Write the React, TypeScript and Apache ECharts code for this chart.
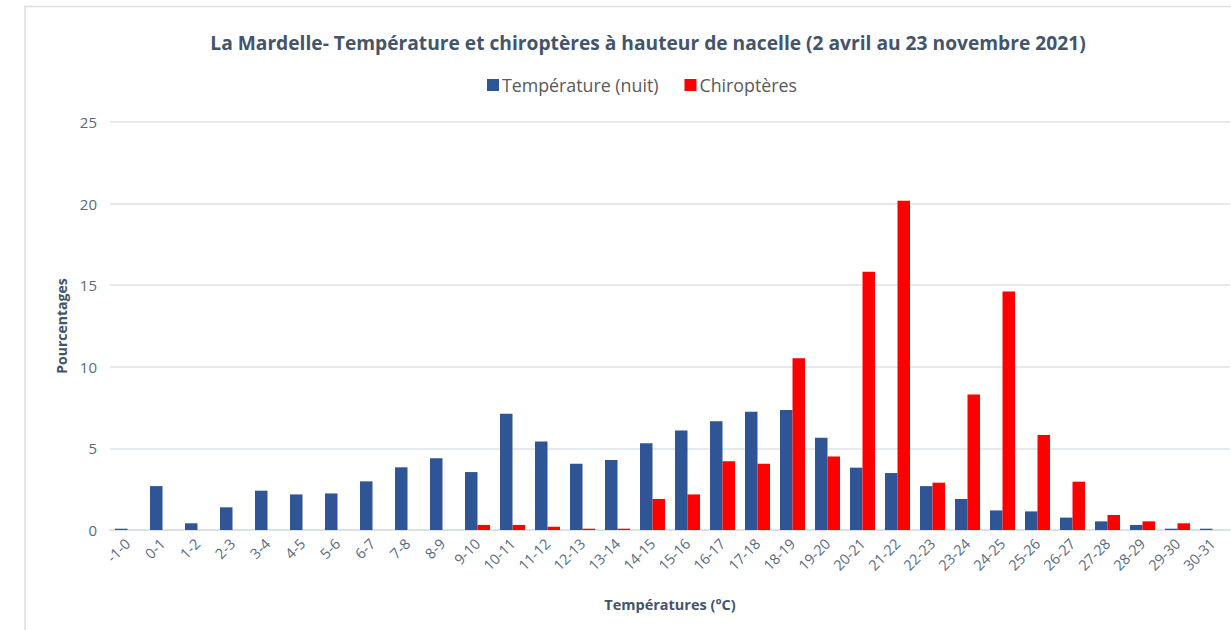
import React, { useEffect, useRef } from "react";
import * as echarts from "echarts";

const categories = [
  "-1-0", "0-1", "1-2", "2-3", "3-4", "4-5", "5-6", "6-7", "7-8", "8-9",
  "9-10", "10-11", "11-12", "12-13", "13-14", "14-15", "15-16", "16-17", "17-18", "18-19",
  "19-20", "20-21", "21-22", "22-23", "23-24", "24-25", "25-26", "26-27", "27-28", "28-29",
  "29-30", "30-31",
];

const temperatureNuit = [
  0.08, 2.69, 0.41, 1.39, 2.41, 2.18, 2.24, 2.98, 3.84, 4.39,
  3.55, 7.12, 5.43, 4.06, 4.29, 5.31, 6.1, 6.67, 7.24, 7.35,
  5.65, 3.82, 3.49, 2.69, 1.9, 1.2, 1.14, 0.76, 0.53, 0.31,
  0.08, 0.08,
];

const chiropteres = [
  0, 0, 0, 0, 0, 0, 0, 0, 0, 0,
  0.31, 0.31, 0.2, 0.08, 0.08, 1.9, 2.18, 4.22, 4.06, 10.53,
  4.51, 15.82, 20.18, 2.9, 8.31, 14.61, 5.82, 2.96, 0.92, 0.53,
  0.41, 0,
];

const yTicks = { min: 0, max: 25, interval: 5 };

const FONT = "'Open Sans', 'Noto Sans', sans-serif";

export default function App() {
  const ref = useRef<HTMLDivElement>(null);

  useEffect(() => {
    if (!ref.current) return;
    const chart = echarts.init(ref.current, null, { renderer: "svg" });
    chart.setOption({
      animation: false,
      backgroundColor: "#ffffff",
      title: {
        text: "La Mardelle- Température et chiroptères à hauteur de nacelle (2 avril au 23 novembre 2021)",
        left: 643,
        top: 28,
        textAlign: "center",
        textStyle: {
          fontFamily: FONT,
          fontWeight: "bold",
          fontSize: 19.2,
          color: "#44546A",
        },
      },
      legend: {
        top: 71,
        left: 482,
        itemWidth: 12,
        itemHeight: 12,
        itemGap: 26,
        icon: "rect",
        textStyle: { fontFamily: FONT, fontSize: 17.8, color: "#595959", padding: [0, 0, 0, -2] },
        data: ["Température (nuit)", "Chiroptères"],
      },
      graphic: [
        {
          type: "rect",
          shape: { x: 25, y: 6.5, width: 1240, height: 660 },
          style: { fill: "none", stroke: "#D9DEE3", lineWidth: 1.5 },
          silent: true,
        },
      ],
      grid: { left: 110, right: 1, top: 122, bottom: 100 },
      xAxis: {
        type: "category",
        data: categories,
        name: "Températures (°C)",
        nameLocation: "middle",
        nameGap: 67,
        nameTextStyle: { fontFamily: FONT, fontWeight: "bold", fontSize: 14.5, color: "#44546A" },
        axisLine: { lineStyle: { color: "#D9DEE3", width: 1.5 } },
        axisTick: { show: false },
        axisLabel: {
          rotate: 45,
          interval: 0,
          margin: 11,
          fontFamily: FONT,
          fontSize: 14.5,
          color: "#596A7E",
        },
      },
      yAxis: {
        type: "value",
        min: yTicks.min,
        max: yTicks.max,
        interval: yTicks.interval,
        name: "Pourcentages",
        nameLocation: "middle",
        nameGap: 40,
        nameTextStyle: { fontFamily: FONT, fontWeight: "bold", fontSize: 14, color: "#44546A" },
        axisLine: { show: false },
        axisTick: { show: false },
        axisLabel: { margin: 13, fontFamily: FONT, fontSize: 15, color: "#596A7E" },
        splitLine: { lineStyle: { color: "#DEE3E8", width: 1.5 } },
      },
      series: [
        {
          name: "Température (nuit)",
          type: "bar",
          data: temperatureNuit,
          barWidth: 12.5,
          barGap: "0%",
          itemStyle: { color: "#2F5597" },
        },
        {
          name: "Chiroptères",
          type: "bar",
          data: chiropteres,
          barWidth: 12.5,
          barGap: "0%",
          itemStyle: { color: "#FF0000" },
        },
      ],
    });
    return () => chart.dispose();
  }, []);

  return (
    <div
      ref={ref}
      style={{ position: "fixed", left: 0, top: 0, width: 1231, height: 630 }}
    />
  );
}
